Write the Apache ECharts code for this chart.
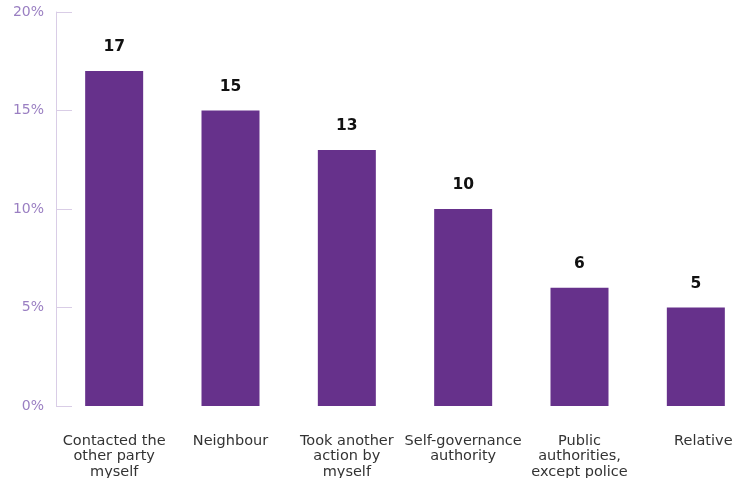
<!DOCTYPE html>
<html><head><meta charset="utf-8">
<script src="https://cdn.jsdelivr.net/npm/echarts@6/dist/echarts.min.js"></script>
<style>html,body{margin:0;padding:0;background:#fff}#c{width:733px;height:478px}</style>
</head><body><div id="c"></div>
<script>
const categories = ['Contacted the\nother party\nmyself','Neighbour','Took another\naction by\nmyself','Self-governance\nauthority','Public\nauthorities,\nexcept police','Relative'];
const values = [17, 15, 13, 10, 6, 5];
const yTicks = [0, 5, 10, 15, 20];

const catData = categories.map((c, i) => i === categories.length - 1
  ? {value: c, textStyle: {padding: [0, 0, 0, 15]}} : c);

const chart = echarts.init(document.getElementById('c'));
chart.setOption({
  animation: false,
  grid: {left: 56, width: 698, top: 12, height: 394, containLabel: false, outerBoundsMode: 'none'},
  xAxis: {
    type: 'category', data: catData,
    axisLine: {show: false}, axisTick: {show: false},
    axisLabel: {color: '#333', fontFamily: 'DejaVu Sans', fontSize: 14.5, lineHeight: 15.5, margin: 27, interval: 0}
  },
  yAxis: {
    type: 'value', min: yTicks[0], max: yTicks[yTicks.length-1], interval: 5,
    axisLine: {show: true, lineStyle: {color: '#d9cde6', width: 1}},
    axisTick: {show: true, inside: true, length: 16, lineStyle: {color: '#d9cde6'}},
    splitLine: {show: false},
    axisLabel: {color: '#9a7fc2', fontFamily: 'DejaVu Sans', fontSize: 14, margin: 12, formatter: '{value}%'}
  },
  series: [{
    type: 'bar', data: values, barWidth: 58,
    itemStyle: {color: '#66318b'},
    label: {show: true, position: 'top', distance: 16, color: '#111', fontWeight: 'bold', fontFamily: 'DejaVu Sans', fontSize: 15.5}
  }]
});
</script></body></html>
